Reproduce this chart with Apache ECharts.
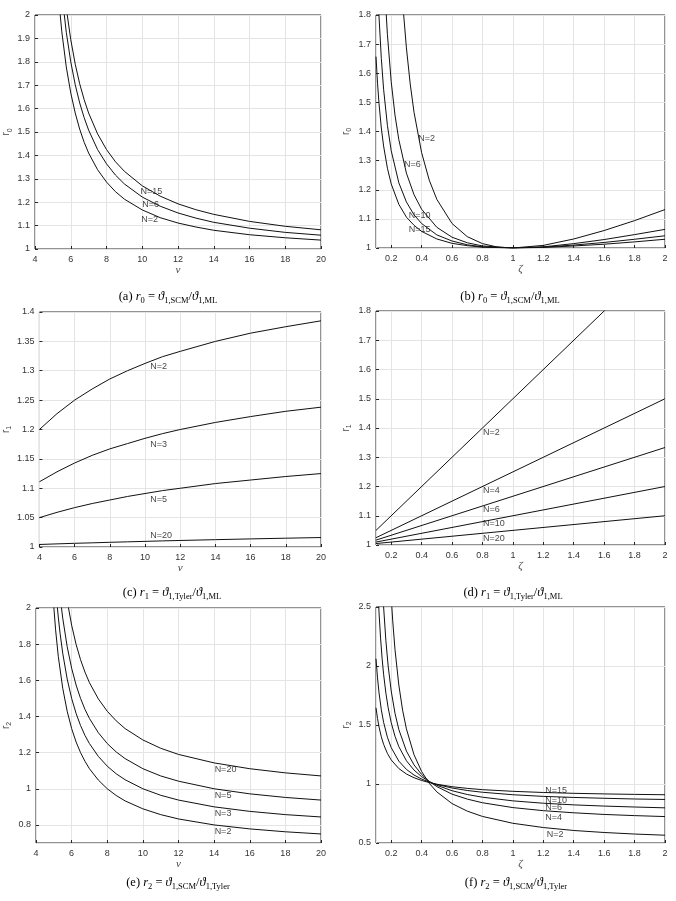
<!DOCTYPE html>
<html>
<head>
<meta charset="utf-8" />
<title>ECharts</title>
<script src="https://cdn.jsdelivr.net/npm/echarts@6/dist/echarts.min.js"></script>
</head>
<body style="margin:0;background:#fff">
<div id="main" style="width:676px;height:901px;"></div>
<script type="text/javascript">
// (a) r0 vs nu
var a_N2 = [[5.3,2.089],[5.5,1.928],[5.75,1.778],[6,1.667],[6.25,1.581],[6.5,1.512],[6.75,1.456],[7,1.410],[7.5,1.339],[8,1.286],[8.5,1.245],[9,1.213],[10,1.167],[11,1.134],[12,1.111],[13,1.094],[14,1.080],[16,1.061],[18,1.048],[20,1.038]];
var a_N6 = [[5.4,2.178],[5.5,2.094],[5.75,1.926],[6,1.800],[6.25,1.702],[6.5,1.624],[6.75,1.561],[7,1.508],[7.5,1.425],[8,1.364],[8.5,1.316],[9,1.278],[10,1.222],[11,1.183],[12,1.154],[13,1.132],[14,1.114],[16,1.089],[18,1.071],[20,1.059]];
var a_N15 = [[5.6,2.130],[5.75,2.029],[6,1.895],[6.25,1.790],[6.5,1.706],[6.75,1.638],[7,1.581],[7.5,1.492],[8,1.425],[8.5,1.373],[9,1.332],[10,1.270],[11,1.226],[12,1.193],[13,1.168],[14,1.148],[16,1.118],[18,1.097],[20,1.082]];
var a_tags = [['N=15',9.88,1.247],['N=6',9.97,1.19],['N=2',9.92,1.126]];

// (b) r0 vs zeta
var b_N2 = [[0.27,1.887],[0.28,1.813],[0.3,1.687],[0.325,1.563],[0.35,1.466],[0.4,1.327],[0.45,1.233],[0.5,1.167],[0.6,1.084],[0.7,1.039],[0.8,1.015],[0.9,1.003],[1,1.000],[1.2,1.009],[1.4,1.031],[1.6,1.060],[1.8,1.094],[2,1.132]];
var b_N6 = [[0.15,1.979],[0.16,1.867],[0.175,1.733],[0.2,1.571],[0.225,1.456],[0.25,1.372],[0.3,1.257],[0.35,1.183],[0.4,1.133],[0.5,1.071],[0.6,1.037],[0.7,1.018],[0.8,1.007],[1,1.000],[1.2,1.004],[1.4,1.015],[1.6,1.029],[1.8,1.046],[2,1.064]];
var b_N10 = [[0.1,2.083],[0.11,1.920],[0.12,1.793],[0.135,1.651],[0.15,1.545],[0.175,1.421],[0.2,1.334],[0.25,1.224],[0.3,1.158],[0.35,1.114],[0.4,1.084],[0.5,1.045],[0.6,1.024],[0.7,1.011],[0.8,1.004],[1,1.000],[1.2,1.003],[1.4,1.010],[1.6,1.019],[1.8,1.030],[2,1.042]];
var b_N15 = [[0.1,1.657],[0.11,1.566],[0.12,1.495],[0.135,1.412],[0.15,1.350],[0.175,1.274],[0.2,1.220],[0.25,1.150],[0.3,1.106],[0.35,1.078],[0.4,1.057],[0.5,1.031],[0.6,1.016],[0.7,1.008],[0.8,1.003],[1,1.000],[1.2,1.002],[1.4,1.007],[1.6,1.013],[1.8,1.021],[2,1.030]];
var b_tags = [['N=2',0.374,1.377],['N=6',0.281,1.285],['N=10',0.312,1.113],['N=15',0.312,1.063]];

// (c) r1 vs nu
var c_nu = [4,5,6,7,8,9,10,11,12,14,16,18,20];
var c_N2 = [1.2,1.227,1.25,1.269,1.286,1.3,1.3125,1.324,1.333,1.35,1.364,1.375,1.385];
var c_N3 = [1.111,1.128,1.143,1.156,1.167,1.176,1.185,1.193,1.2,1.212,1.222,1.231,1.238];
var c_N5 = [1.05,1.059,1.067,1.074,1.08,1.086,1.091,1.096,1.1,1.108,1.114,1.12,1.125];
var c_N20 = [1.0043,1.0053,1.0063,1.0071,1.008,1.0088,1.0096,1.0104,1.0111,1.0125,1.0138,1.015,1.0161];
var c_tags = [['N=2',10.27,1.308],['N=3',10.27,1.175],['N=5',10.27,1.081],['N=20',10.27,1.02]];

// (d) r1 vs zeta
var d_zeta = [0.1,2];
var d_N2 = [1.05,2.0];
var d_N4 = [1.025,1.5];
var d_N6 = [1.0167,1.3333];
var d_N10 = [1.01,1.2];
var d_N20 = [1.005,1.1];
var d_tags = [['N=2',0.8,1.384],['N=4',0.8,1.187],['N=6',0.8,1.123],['N=10',0.8,1.074],['N=20',0.8,1.023]];

// (e) r2 vs nu
var e_N2 = [[4.95,2.070],[5.1,1.879],[5.25,1.733],[5.5,1.556],[5.75,1.429],[6,1.333],[6.25,1.259],[6.5,1.2],[6.75,1.152],[7,1.111],[7.5,1.048],[8,1.0],[8.5,0.963],[9,0.933],[10,0.889],[11,0.857],[12,0.833],[14,0.8],[16,0.778],[18,0.762],[20,0.75]];
var e_N3 = [[5.15,2.054],[5.25,1.95],[5.35,1.861],[5.5,1.75],[5.75,1.607],[6,1.5],[6.25,1.417],[6.5,1.35],[6.75,1.295],[7,1.25],[7.5,1.179],[8,1.125],[8.5,1.083],[9,1.05],[10,1.0],[11,0.964],[12,0.9375],[14,0.9],[16,0.875],[18,0.857],[20,0.844]];
var e_N5 = [[5.35,2.068],[5.5,1.944],[5.75,1.786],[6,1.667],[6.25,1.574],[6.5,1.5],[6.75,1.439],[7,1.389],[7.5,1.310],[8,1.25],[8.5,1.204],[9,1.167],[10,1.111],[11,1.071],[12,1.042],[14,1.0],[16,0.972],[18,0.952],[20,0.9375]];
var e_N20 = [[5.75,2.041],[6,1.905],[6.25,1.799],[6.5,1.714],[6.75,1.645],[7,1.587],[7.5,1.497],[8,1.429],[8.5,1.376],[9,1.333],[10,1.270],[11,1.224],[12,1.190],[14,1.143],[16,1.111],[18,1.088],[20,1.071]];
var e_tags = [['N=20',14,1.107],['N=5',14,0.96],['N=3',14,0.864],['N=2',14,0.763]];

// (f) r2 vs zeta
var f_N2 = [[0.2,2.582],[0.21,2.382],[0.225,2.138],[0.25,1.839],[0.275,1.625],[0.3,1.467],[0.35,1.248],[0.4,1.106],[0.45,1.006],[0.5,0.933],[0.6,0.834],[0.7,0.770],[0.8,0.725],[1,0.667],[1.2,0.631],[1.4,0.606],[1.6,0.589],[1.8,0.576],[2,0.566]];
var f_N4 = [[0.14,2.753],[0.15,2.501],[0.165,2.214],[0.18,2.000],[0.2,1.788],[0.225,1.599],[0.25,1.462],[0.3,1.279],[0.35,1.162],[0.4,1.081],[0.45,1.022],[0.5,0.978],[0.6,0.914],[0.7,0.872],[0.8,0.841],[1,0.800],[1.2,0.774],[1.4,0.756],[1.6,0.742],[1.8,0.732],[2,0.724]];
var f_N6 = [[0.11,2.732],[0.12,2.451],[0.13,2.236],[0.14,2.067],[0.15,1.930],[0.165,1.770],[0.18,1.646],[0.2,1.520],[0.225,1.404],[0.25,1.317],[0.3,1.197],[0.35,1.118],[0.4,1.062],[0.45,1.021],[0.5,0.989],[0.6,0.943],[0.7,0.911],[0.8,0.888],[1,0.857],[1.2,0.837],[1.4,0.823],[1.6,0.813],[1.8,0.805],[2,0.798]];
var f_N10 = [[0.1,2.062],[0.11,1.899],[0.12,1.772],[0.135,1.629],[0.15,1.523],[0.175,1.396],[0.2,1.308],[0.25,1.194],[0.3,1.124],[0.35,1.076],[0.4,1.042],[0.45,1.016],[0.5,0.996],[0.6,0.966],[0.7,0.945],[0.8,0.930],[1,0.909],[1.2,0.895],[1.4,0.886],[1.6,0.879],[1.8,0.873],[2,0.869]];
var f_N15 = [[0.1,1.646],[0.11,1.555],[0.12,1.483],[0.135,1.400],[0.15,1.336],[0.175,1.259],[0.2,1.204],[0.25,1.131],[0.3,1.085],[0.35,1.053],[0.4,1.030],[0.45,1.012],[0.5,0.998],[0.6,0.977],[0.7,0.963],[0.8,0.952],[1,0.938],[1.2,0.928],[1.4,0.921],[1.6,0.916],[1.8,0.912],[2,0.909]];
var f_tags = [['N=15',1.21,0.943],['N=10',1.21,0.858],['N=6',1.21,0.802],['N=4',1.21,0.714],['N=2',1.22,0.576]];

function zip(xs, ys) {
  return xs.map(function (x, k) { return [x, ys[k]]; });
}

var myChart = echarts.init(document.getElementById('main'));

var SANS = 'Liberation Sans';
var SERIF = 'Liberation Serif, DejaVu Serif';

function xAx(i, name, min, max, interval, hideMin) {
  var ax = {
    gridIndex: i, type: 'value', min: min, max: max,
    name: name, nameLocation: 'middle', nameGap: 16,
    nameTextStyle: {fontFamily: SERIF, fontStyle: 'italic', fontSize: 11, color: '#444'},
    axisLine: {show: false, onZero: false},
    axisTick: {show: true, inside: true, length: 3, lineStyle: {color: '#262626'}},
    axisLabel: {fontFamily: SANS, fontSize: 9, color: '#333', margin: 6, interval: 0, showMinLabel: !hideMin},
    splitLine: {show: true, lineStyle: {color: '#e4e4e4', width: 1}}
  };
  if (interval) ax.interval = interval;
  else { ax.minInterval = 0.2; ax.maxInterval = 0.2; ax.splitNumber = 10; }
  return ax;
}

function yAx(i, sub, min, max, interval, gap) {
  var ax = {
    gridIndex: i, type: 'value', min: min, max: max,
    name: '{a|r}{b|' + sub + '}', nameLocation: 'middle', nameGap: gap, nameRotate: 90,
    nameTextStyle: {
      color: '#444',
      rich: {
        a: {fontFamily: SANS, fontSize: 10, color: '#444', lineHeight: 14, verticalAlign: 'middle'},
        b: {fontFamily: SANS, fontSize: 7, color: '#444', lineHeight: 9, verticalAlign: 'bottom'}
      }
    },
    axisLine: {show: false, onZero: false},
    axisTick: {show: true, inside: true, length: 3, lineStyle: {color: '#262626'}},
    axisLabel: {fontFamily: SANS, fontSize: 9, color: '#333', margin: 5, interval: 0},
    splitLine: {show: true, lineStyle: {color: '#e4e4e4', width: 1}}
  };
  if (interval) ax.interval = interval;
  else { ax.minInterval = 0.2; ax.maxInterval = 0.2; ax.splitNumber = 7; ax.axisLabel.showMinLabel = false; }
  return ax;
}

function curve(i, data) {
  return {
    type: 'line', xAxisIndex: i, yAxisIndex: i, data: data,
    showSymbol: false, symbol: 'none', smooth: false,
    clip: true, silent: true, z: 3,
    lineStyle: {color: '#111', width: 1}
  };
}

function tags(i, list) {
  return {
    type: 'scatter', xAxisIndex: i, yAxisIndex: i, symbolSize: 1, silent: true, z: 4,
    itemStyle: {color: 'rgba(0,0,0,0)'},
    data: list.map(function (t) { return {name: t[0], value: [t[1], t[2]]}; }),
    label: {show: true, position: 'right', distance: 0, formatter: '{b}',
            fontFamily: SANS, fontSize: 9, color: '#111'}
  };
}

var capRich = {
  p: {fontFamily: SERIF, fontSize: 12.5, color: '#000', lineHeight: 16, verticalAlign: 'middle'},
  i: {fontFamily: SERIF, fontStyle: 'italic', fontSize: 12.5, color: '#000', lineHeight: 16, verticalAlign: 'middle'},
  s: {fontFamily: SERIF, fontSize: 8.5, color: '#000', lineHeight: 10, verticalAlign: 'bottom'}
};
function caption(letter, sub, num, den, x, y) {
  return {
    type: 'text', x: x, y: y, silent: true,
    style: {
      text: '{p|(' + letter + ') }{i|r}{s|' + sub + '}{p| = }{i|ϑ}{s|1,' + num + '}{p|/}{i|ϑ}{s|1,' + den + '}',
      rich: capRich, align: 'center', verticalAlign: 'middle'
    }
  };
}

var option = {
  animation: false,
  backgroundColor: '#fff',
  grid: [
    {left: 35, top: 15, width: 286, height: 234},
    {left: 376, top: 15, width: 289, height: 233},
    {left: 38, top: 312, width: 283, height: 235},
    {left: 376, top: 311, width: 289, height: 234},
    {left: 35, top: 608, width: 286, height: 235},
    {left: 376, top: 607, width: 289, height: 236}
  ].map(function (g) {
    g.show = true; g.borderColor = '#262626'; g.borderWidth = 1; g.containLabel = false;
    return g;
  }),
  xAxis: [
    xAx(0, 'ν', 4, 20, 2),
    xAx(1, 'ζ', 0.1, 2, null, true),
    xAx(2, 'ν', 4, 20, 2),
    xAx(3, 'ζ', 0.1, 2, null, true),
    xAx(4, 'ν', 4, 20, 2),
    xAx(5, 'ζ', 0.1, 2, null, true)
  ],
  yAxis: [
    yAx(0, '0', 1, 2, 0.1, 21),
    yAx(1, '0', 1, 1.8, 0.1, 23),
    yAx(2, '1', 1, 1.4, 0.05, 25),
    yAx(3, '1', 1, 1.8, 0.1, 23),
    yAx(4, '2', 0.7, 2, null, 23),
    yAx(5, '2', 0.5, 2.5, 0.5, 23)
  ],
  series: [
    curve(0, a_N2), curve(0, a_N6), curve(0, a_N15), tags(0, a_tags),
    curve(1, b_N2), curve(1, b_N6), curve(1, b_N10), curve(1, b_N15), tags(1, b_tags),
    curve(2, zip(c_nu, c_N2)), curve(2, zip(c_nu, c_N3)), curve(2, zip(c_nu, c_N5)), curve(2, zip(c_nu, c_N20)), tags(2, c_tags),
    curve(3, zip(d_zeta, d_N2)), curve(3, zip(d_zeta, d_N4)), curve(3, zip(d_zeta, d_N6)), curve(3, zip(d_zeta, d_N10)), curve(3, zip(d_zeta, d_N20)), tags(3, d_tags),
    curve(4, e_N2), curve(4, e_N3), curve(4, e_N5), curve(4, e_N20), tags(4, e_tags),
    curve(5, f_N2), curve(5, f_N4), curve(5, f_N6), curve(5, f_N10), curve(5, f_N15), tags(5, f_tags)
  ],
  graphic: [
    caption('a', '0', 'SCM', 'ML', 168, 297),
    caption('b', '0', 'SCM', 'ML', 510, 297),
    caption('c', '1', 'Tyler', 'ML', 172, 593),
    caption('d', '1', 'Tyler', 'ML', 513, 593),
    caption('e', '2', 'SCM', 'Tyler', 178, 883),
    caption('f', '2', 'SCM', 'Tyler', 516, 883)
  ]
};

myChart.setOption(option);
</script>
</body>
</html>
